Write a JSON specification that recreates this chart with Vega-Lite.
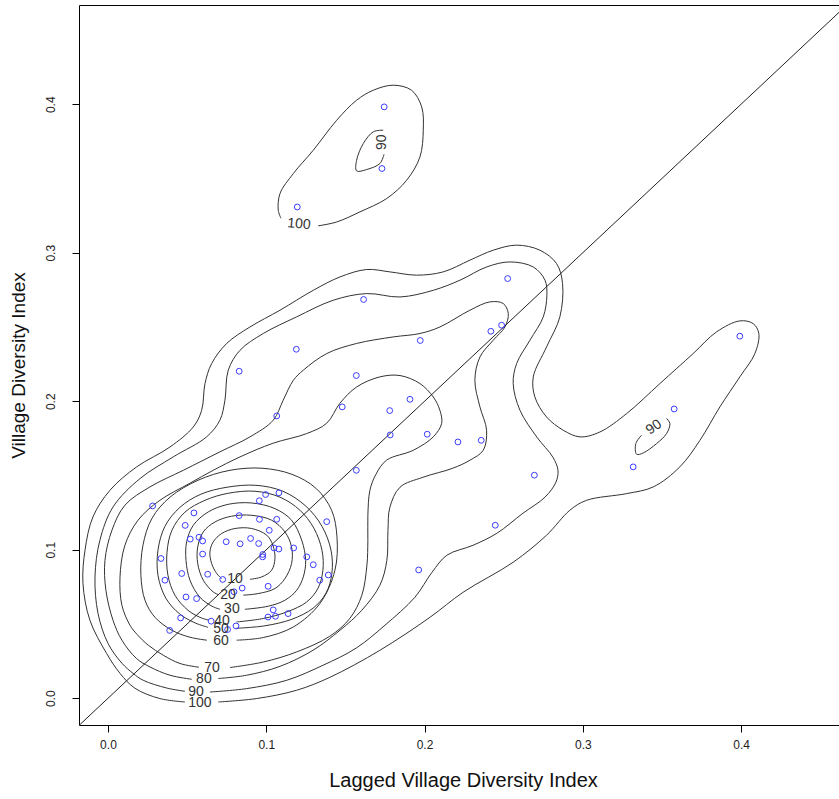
{
  "$schema": "https://vega.github.io/schema/vega-lite/v6.json",
  "width": 768,
  "height": 720,
  "autosize": {"type": "none"},
  "padding": {"left": 79, "top": 5, "right": 0, "bottom": 74},
  "background": "white",
  "config": {
    "view": {"stroke": "#000000", "strokeWidth": 1},
    "font": "Liberation Sans"
  },
  "datasets": {
    "pts": [
      {"x":0.1745,"y":0.3982},{"x":0.1731,"y":0.3567},{"x":0.1196,"y":0.3308},{"x":0.3992,"y":0.2438},
      {"x":0.3577,"y":0.1948},{"x":0.3318,"y":0.1558},{"x":0.2525,"y":0.2826},{"x":0.1615,"y":0.2685},
      {"x":0.1190,"y":0.2350},{"x":0.0829,"y":0.2202},{"x":0.2487,"y":0.2512},{"x":0.2419,"y":0.2471},
      {"x":0.1973,"y":0.2409},{"x":0.1569,"y":0.2173},{"x":0.1066,"y":0.1901},{"x":0.1480,"y":0.1962},
      {"x":0.1780,"y":0.1937},{"x":0.1908,"y":0.2013},{"x":0.1783,"y":0.1773},{"x":0.2017,"y":0.1778},
      {"x":0.2211,"y":0.1726},{"x":0.2358,"y":0.1737},{"x":0.1569,"y":0.1535},{"x":0.2694,"y":0.1502},
      {"x":0.2447,"y":0.1165},{"x":0.1963,"y":0.0864},{"x":0.0282,"y":0.1295},{"x":0.0543,"y":0.1248},
      {"x":0.0488,"y":0.1164},{"x":0.0520,"y":0.1072},{"x":0.0575,"y":0.1084},{"x":0.0598,"y":0.1059},
      {"x":0.0335,"y":0.0941},{"x":0.0598,"y":0.0971},{"x":0.0360,"y":0.0795},{"x":0.0466,"y":0.0840},
      {"x":0.0630,"y":0.0835},{"x":0.0725,"y":0.0800},{"x":0.0493,"y":0.0682},{"x":0.0560,"y":0.0671},
      {"x":0.0796,"y":0.0717},{"x":0.0848,"y":0.0742},{"x":0.0459,"y":0.0541},{"x":0.0390,"y":0.0457},
      {"x":0.0652,"y":0.0519},{"x":0.0756,"y":0.0463},{"x":0.0809,"y":0.0487},{"x":0.0829,"y":0.1230},
      {"x":0.0747,"y":0.1054},{"x":0.0835,"y":0.1040},{"x":0.0901,"y":0.1076},{"x":0.0952,"y":0.1042},
      {"x":0.0956,"y":0.1330},{"x":0.0996,"y":0.1372},{"x":0.1080,"y":0.1383},{"x":0.0957,"y":0.1205},
      {"x":0.1066,"y":0.1205},{"x":0.1019,"y":0.1131},{"x":0.0978,"y":0.0968},{"x":0.0977,"y":0.0952},
      {"x":0.1049,"y":0.1012},{"x":0.1080,"y":0.1005},{"x":0.1173,"y":0.1012},{"x":0.1256,"y":0.0952},
      {"x":0.1297,"y":0.0899},{"x":0.1382,"y":0.1189},{"x":0.1338,"y":0.0795},{"x":0.1392,"y":0.0830},
      {"x":0.1012,"y":0.0754},{"x":0.1044,"y":0.0595},{"x":0.1011,"y":0.0547},{"x":0.1058,"y":0.0552},
      {"x":0.1138,"y":0.0570}
    ],
    "labels": [
      {"t":"10","x":0.0802,"y":0.0801,"a":0},
      {"t":"20","x":0.0758,"y":0.0694,"a":0},
      {"t":"30","x":0.0783,"y":0.0599,"a":0},
      {"t":"40","x":0.0720,"y":0.0519,"a":0},
      {"t":"50","x":0.0714,"y":0.0465,"a":0},
      {"t":"60","x":0.0714,"y":0.0384,"a":0},
      {"t":"70","x":0.0657,"y":0.0202,"a":0},
      {"t":"80","x":0.0606,"y":0.0128,"a":0},
      {"t":"90","x":0.0556,"y":0.0040,"a":0},
      {"t":"100","x":0.0581,"y":-0.0034,"a":0},
      {"t":"100","x":0.1207,"y":0.3192,"a":5},
      {"t":"90","x":0.1731,"y":0.3744,"a":270},
      {"t":"90","x":0.3449,"y":0.1825,"a":325}
    ],
    "diag": [{"x":-0.0183,"y":-0.0183,"x2":0.4669,"y2":0.4669}],
    "contours": [
      {"c":"c10","i":0,"x":0.0897,"y":0.0801},{"c":"c10","i":1,"x":0.0971,"y":0.0817},{"c":"c10","i":2,"x":0.1034,"y":0.0862},
      {"c":"c10","i":3,"x":0.1055,"y":0.0943},{"c":"c10","i":4,"x":0.1042,"y":0.1030},{"c":"c10","i":5,"x":0.1003,"y":0.1098},
      {"c":"c10","i":6,"x":0.0908,"y":0.1143},{"c":"c10","i":7,"x":0.0802,"y":0.1143},{"c":"c10","i":8,"x":0.0718,"y":0.1109},
      {"c":"c10","i":9,"x":0.0665,"y":0.1053},{"c":"c10","i":10,"x":0.0644,"y":0.0985},{"c":"c10","i":11,"x":0.0655,"y":0.0907},
      {"c":"c10","i":12,"x":0.0687,"y":0.0840},{"c":"c10","i":13,"x":0.0718,"y":0.0806},

      {"c":"c20","i":0,"x":0.0855,"y":0.0694},{"c":"c20","i":1,"x":0.0949,"y":0.0705},{"c":"c20","i":2,"x":0.1055,"y":0.0739},
      {"c":"c20","i":3,"x":0.1118,"y":0.0806},{"c":"c20","i":4,"x":0.1160,"y":0.0907},{"c":"c20","i":5,"x":0.1160,"y":0.1019},
      {"c":"c20","i":6,"x":0.1118,"y":0.1120},{"c":"c20","i":7,"x":0.1034,"y":0.1199},{"c":"c20","i":8,"x":0.0908,"y":0.1232},
      {"c":"c20","i":9,"x":0.0781,"y":0.1226},{"c":"c20","i":10,"x":0.0676,"y":0.1187},{"c":"c20","i":11,"x":0.0602,"y":0.1120},
      {"c":"c20","i":12,"x":0.0567,"y":0.1019},{"c":"c20","i":13,"x":0.0567,"y":0.0907},{"c":"c20","i":14,"x":0.0602,"y":0.0795},
      {"c":"c20","i":15,"x":0.0665,"y":0.0716},{"c":"c20","i":16,"x":0.0697,"y":0.0698},

      {"c":"c30","i":0,"x":0.0865,"y":0.0599},{"c":"c30","i":1,"x":0.1013,"y":0.0620},{"c":"c30","i":2,"x":0.1118,"y":0.0660},
      {"c":"c30","i":3,"x":0.1192,"y":0.0727},{"c":"c30","i":4,"x":0.1234,"y":0.0817},{"c":"c30","i":5,"x":0.1249,"y":0.0929},
      {"c":"c30","i":6,"x":0.1224,"y":0.1064},{"c":"c30","i":7,"x":0.1160,"y":0.1199},{"c":"c30","i":8,"x":0.1055,"y":0.1277},
      {"c":"c30","i":9,"x":0.0908,"y":0.1315},{"c":"c30","i":10,"x":0.0760,"y":0.1306},{"c":"c30","i":11,"x":0.0634,"y":0.1255},
      {"c":"c30","i":12,"x":0.0539,"y":0.1165},{"c":"c30","i":13,"x":0.0497,"y":0.1053},{"c":"c30","i":14,"x":0.0493,"y":0.0929},
      {"c":"c30","i":15,"x":0.0518,"y":0.0795},{"c":"c30","i":16,"x":0.0581,"y":0.0680},{"c":"c30","i":17,"x":0.0657,"y":0.0620},
      {"c":"c30","i":18,"x":0.0708,"y":0.0599},

      {"c":"c40","i":0,"x":0.0813,"y":0.0514},{"c":"c40","i":1,"x":0.0981,"y":0.0537},{"c":"c40","i":2,"x":0.1129,"y":0.0581},
      {"c":"c40","i":3,"x":0.1255,"y":0.0648},{"c":"c40","i":4,"x":0.1327,"y":0.0741},{"c":"c40","i":5,"x":0.1358,"y":0.0862},
      {"c":"c40","i":6,"x":0.1352,"y":0.0997},{"c":"c40","i":7,"x":0.1301,"y":0.1145},{"c":"c40","i":8,"x":0.1213,"y":0.1266},
      {"c":"c40","i":9,"x":0.1087,"y":0.1354},{"c":"c40","i":10,"x":0.0929,"y":0.1394},{"c":"c40","i":11,"x":0.0758,"y":0.1380},
      {"c":"c40","i":12,"x":0.0613,"y":0.1333},{"c":"c40","i":13,"x":0.0486,"y":0.1253},{"c":"c40","i":14,"x":0.0404,"y":0.1131},
      {"c":"c40","i":15,"x":0.0373,"y":0.0983},{"c":"c40","i":16,"x":0.0379,"y":0.0828},{"c":"c40","i":17,"x":0.0423,"y":0.0694},
      {"c":"c40","i":18,"x":0.0505,"y":0.0593},{"c":"c40","i":19,"x":0.0581,"y":0.0545},{"c":"c40","i":20,"x":0.0638,"y":0.0525},

      {"c":"c50","i":0,"x":0.0809,"y":0.0471},{"c":"c50","i":1,"x":0.0992,"y":0.0488},{"c":"c50","i":2,"x":0.1162,"y":0.0532},
      {"c":"c50","i":3,"x":0.1295,"y":0.0606},{"c":"c50","i":4,"x":0.1377,"y":0.0707},{"c":"c50","i":5,"x":0.1415,"y":0.0842},
      {"c":"c50","i":6,"x":0.1409,"y":0.0997},{"c":"c50","i":7,"x":0.1352,"y":0.1158},{"c":"c50","i":8,"x":0.1251,"y":0.1293},
      {"c":"c50","i":9,"x":0.1105,"y":0.1394},{"c":"c50","i":10,"x":0.0935,"y":0.1434},{"c":"c50","i":11,"x":0.0752,"y":0.1421},
      {"c":"c50","i":12,"x":0.0587,"y":0.1374},{"c":"c50","i":13,"x":0.0455,"y":0.1286},{"c":"c50","i":14,"x":0.0360,"y":0.1158},
      {"c":"c50","i":15,"x":0.0316,"y":0.0997},{"c":"c50","i":16,"x":0.0316,"y":0.0828},{"c":"c50","i":17,"x":0.0366,"y":0.0673},
      {"c":"c50","i":18,"x":0.0455,"y":0.0566},{"c":"c50","i":19,"x":0.0556,"y":0.0505},{"c":"c50","i":20,"x":0.0632,"y":0.0478},

      {"c":"c60","i":0,"x":0.0813,"y":0.0391},{"c":"c60","i":1,"x":0.0981,"y":0.0409},{"c":"c60","i":2,"x":0.1171,"y":0.0480},
      {"c":"c60","i":3,"x":0.1339,"y":0.0638},{"c":"c60","i":4,"x":0.1434,"y":0.0862},{"c":"c60","i":5,"x":0.1447,"y":0.1084},
      {"c":"c60","i":6,"x":0.1413,"y":0.1266},{"c":"c60","i":7,"x":0.1314,"y":0.1414},{"c":"c60","i":8,"x":0.1162,"y":0.1508},
      {"c":"c60","i":9,"x":0.0973,"y":0.1549},{"c":"c60","i":10,"x":0.0771,"y":0.1535},{"c":"c60","i":11,"x":0.0569,"y":0.1468},
      {"c":"c60","i":12,"x":0.0392,"y":0.1354},{"c":"c60","i":13,"x":0.0278,"y":0.1212},{"c":"c60","i":14,"x":0.0221,"y":0.1030},
      {"c":"c60","i":15,"x":0.0208,"y":0.0828},{"c":"c60","i":16,"x":0.0234,"y":0.0660},{"c":"c60","i":17,"x":0.0297,"y":0.0545},
      {"c":"c60","i":18,"x":0.0404,"y":0.0458},{"c":"c60","i":19,"x":0.0518,"y":0.0411},{"c":"c60","i":20,"x":0.0625,"y":0.0391},

      {"c":"c70","i":0,"x":0.0771,"y":0.0207},{"c":"c70","i":1,"x":0.0981,"y":0.0244},{"c":"c70","i":2,"x":0.1192,"y":0.0312},
      {"c":"c70","i":3,"x":0.1402,"y":0.0418},{"c":"c70","i":4,"x":0.1529,"y":0.0539},{"c":"c70","i":5,"x":0.1604,"y":0.0694},
      {"c":"c70","i":6,"x":0.1636,"y":0.0896},{"c":"c70","i":7,"x":0.1642,"y":0.1064},{"c":"c70","i":8,"x":0.1642,"y":0.1232},
      {"c":"c70","i":9,"x":0.1655,"y":0.1401},{"c":"c70","i":10,"x":0.1693,"y":0.1508},{"c":"c70","i":11,"x":0.1760,"y":0.1603},
      {"c":"c70","i":12,"x":0.1929,"y":0.1670},{"c":"c70","i":13,"x":0.2055,"y":0.1760},{"c":"c70","i":14,"x":0.2108,"y":0.1850},
      {"c":"c70","i":15,"x":0.2097,"y":0.1939},{"c":"c70","i":16,"x":0.2055,"y":0.2029},{"c":"c70","i":17,"x":0.1971,"y":0.2119},
      {"c":"c70","i":18,"x":0.1845,"y":0.2173},{"c":"c70","i":19,"x":0.1718,"y":0.2164},{"c":"c70","i":20,"x":0.1571,"y":0.2096},
      {"c":"c70","i":21,"x":0.1466,"y":0.1987},{"c":"c70","i":22,"x":0.1382,"y":0.1852},{"c":"c70","i":23,"x":0.1255,"y":0.1782},
      {"c":"c70","i":24,"x":0.1042,"y":0.1717},{"c":"c70","i":25,"x":0.0834,"y":0.1625},{"c":"c70","i":26,"x":0.0665,"y":0.1535},
      {"c":"c70","i":27,"x":0.0518,"y":0.1448},{"c":"c70","i":28,"x":0.0328,"y":0.1333},{"c":"c70","i":29,"x":0.0190,"y":0.1199},
      {"c":"c70","i":30,"x":0.0107,"y":0.1030},{"c":"c70","i":31,"x":0.0076,"y":0.0815},{"c":"c70","i":32,"x":0.0088,"y":0.0626},
      {"c":"c70","i":33,"x":0.0139,"y":0.0492},{"c":"c70","i":34,"x":0.0183,"y":0.0431},{"c":"c70","i":35,"x":0.0255,"y":0.0357},
      {"c":"c70","i":36,"x":0.0349,"y":0.0290},{"c":"c70","i":37,"x":0.0455,"y":0.0234},{"c":"c70","i":38,"x":0.0575,"y":0.0209},

      {"c":"c80","i":0,"x":0.0697,"y":0.0133},{"c":"c80","i":1,"x":0.0876,"y":0.0155},{"c":"c80","i":2,"x":0.1087,"y":0.0215},
      {"c":"c80","i":3,"x":0.1295,"y":0.0323},{"c":"c80","i":4,"x":0.1466,"y":0.0458},{"c":"c80","i":5,"x":0.1604,"y":0.0593},
      {"c":"c80","i":6,"x":0.1718,"y":0.0761},{"c":"c80","i":7,"x":0.1762,"y":0.0929},{"c":"c80","i":8,"x":0.1769,"y":0.1131},
      {"c":"c80","i":9,"x":0.1781,"y":0.1286},{"c":"c80","i":10,"x":0.1845,"y":0.1421},{"c":"c80","i":11,"x":0.1990,"y":0.1488},
      {"c":"c80","i":12,"x":0.2179,"y":0.1549},{"c":"c80","i":13,"x":0.2287,"y":0.1603},{"c":"c80","i":14,"x":0.2371,"y":0.1670},
      {"c":"c80","i":15,"x":0.2392,"y":0.1805},{"c":"c80","i":16,"x":0.2350,"y":0.1962},{"c":"c80","i":17,"x":0.2318,"y":0.2141},
      {"c":"c80","i":18,"x":0.2350,"y":0.2298},{"c":"c80","i":19,"x":0.2434,"y":0.2411},{"c":"c80","i":20,"x":0.2508,"y":0.2500},
      {"c":"c80","i":21,"x":0.2529,"y":0.2591},{"c":"c80","i":22,"x":0.2497,"y":0.2658},{"c":"c80","i":23,"x":0.2413,"y":0.2669},
      {"c":"c80","i":24,"x":0.2287,"y":0.2613},{"c":"c80","i":25,"x":0.2097,"y":0.2500},{"c":"c80","i":26,"x":0.1971,"y":0.2456},
      {"c":"c80","i":27,"x":0.1802,"y":0.2433},{"c":"c80","i":28,"x":0.1571,"y":0.2389},{"c":"c80","i":29,"x":0.1382,"y":0.2321},
      {"c":"c80","i":30,"x":0.1234,"y":0.2209},{"c":"c80","i":31,"x":0.1171,"y":0.2141},{"c":"c80","i":32,"x":0.1107,"y":0.2007},
      {"c":"c80","i":33,"x":0.1044,"y":0.1872},{"c":"c80","i":34,"x":0.0897,"y":0.1760},{"c":"c80","i":35,"x":0.0707,"y":0.1659},
      {"c":"c80","i":36,"x":0.0476,"y":0.1535},{"c":"c80","i":37,"x":0.0265,"y":0.1423},{"c":"c80","i":38,"x":0.0107,"y":0.1300},
      {"c":"c80","i":39,"x":0.0025,"y":0.1131},{"c":"c80","i":40,"x":-0.0019,"y":0.0929},{"c":"c80","i":41,"x":-0.0013,"y":0.0727},
      {"c":"c80","i":42,"x":0.0032,"y":0.0525},{"c":"c80","i":43,"x":0.0088,"y":0.0391},{"c":"c80","i":44,"x":0.0181,"y":0.0267},
      {"c":"c80","i":45,"x":0.0265,"y":0.0211},{"c":"c80","i":46,"x":0.0392,"y":0.0155},{"c":"c80","i":47,"x":0.0529,"y":0.0128},

      {"c":"c90","i":0,"x":0.0644,"y":0.0042},{"c":"c90","i":1,"x":0.0876,"y":0.0065},{"c":"c90","i":2,"x":0.1129,"y":0.0121},
      {"c":"c90","i":3,"x":0.1358,"y":0.0222},{"c":"c90","i":4,"x":0.1567,"y":0.0337},{"c":"c90","i":5,"x":0.1750,"y":0.0492},
      {"c":"c90","i":6,"x":0.1939,"y":0.0680},{"c":"c90","i":7,"x":0.2047,"y":0.0848},{"c":"c90","i":8,"x":0.2141,"y":0.0963},
      {"c":"c90","i":9,"x":0.2306,"y":0.1030},{"c":"c90","i":10,"x":0.2457,"y":0.1111},{"c":"c90","i":11,"x":0.2622,"y":0.1246},
      {"c":"c90","i":12,"x":0.2761,"y":0.1354},{"c":"c90","i":13,"x":0.2830,"y":0.1455},{"c":"c90","i":14,"x":0.2843,"y":0.1535},
      {"c":"c90","i":15,"x":0.2811,"y":0.1623},{"c":"c90","i":16,"x":0.2710,"y":0.1758},{"c":"c90","i":17,"x":0.2603,"y":0.1939},
      {"c":"c90","i":18,"x":0.2560,"y":0.2119},{"c":"c90","i":19,"x":0.2582,"y":0.2254},{"c":"c90","i":20,"x":0.2666,"y":0.2411},
      {"c":"c90","i":21,"x":0.2750,"y":0.2568},{"c":"c90","i":22,"x":0.2773,"y":0.2714},{"c":"c90","i":23,"x":0.2761,"y":0.2815},
      {"c":"c90","i":24,"x":0.2687,"y":0.2904},{"c":"c90","i":25,"x":0.2539,"y":0.2938},{"c":"c90","i":26,"x":0.2392,"y":0.2904},
      {"c":"c90","i":27,"x":0.2224,"y":0.2815},{"c":"c90","i":28,"x":0.2055,"y":0.2747},{"c":"c90","i":29,"x":0.1845,"y":0.2702},
      {"c":"c90","i":30,"x":0.1634,"y":0.2725},{"c":"c90","i":31,"x":0.1423,"y":0.2680},{"c":"c90","i":32,"x":0.1192,"y":0.2568},
      {"c":"c90","i":33,"x":0.0981,"y":0.2456},{"c":"c90","i":34,"x":0.0834,"y":0.2343},{"c":"c90","i":35,"x":0.0760,"y":0.2209},
      {"c":"c90","i":36,"x":0.0739,"y":0.2007},{"c":"c90","i":37,"x":0.0707,"y":0.1872},{"c":"c90","i":38,"x":0.0623,"y":0.1760},
      {"c":"c90","i":39,"x":0.0412,"y":0.1625},{"c":"c90","i":40,"x":0.0202,"y":0.1479},{"c":"c90","i":41,"x":0.0032,"y":0.1288},
      {"c":"c90","i":42,"x":-0.0051,"y":0.1064},{"c":"c90","i":43,"x":-0.0082,"y":0.0817},{"c":"c90","i":44,"x":-0.0063,"y":0.0572},
      {"c":"c90","i":45,"x":0.0000,"y":0.0370},{"c":"c90","i":46,"x":0.0088,"y":0.0236},{"c":"c90","i":47,"x":0.0158,"y":0.0168},
      {"c":"c90","i":48,"x":0.0223,"y":0.0121},{"c":"c90","i":49,"x":0.0371,"y":0.0069},{"c":"c90","i":50,"x":0.0486,"y":0.0047},

      {"c":"c100","i":0,"x":0.0697,"y":-0.0025},{"c":"c100","i":1,"x":0.0939,"y":-0.0002},{"c":"c100","i":2,"x":0.1192,"y":0.0054},
      {"c":"c100","i":3,"x":0.1402,"y":0.0141},{"c":"c100","i":4,"x":0.1718,"y":0.0323},{"c":"c100","i":5,"x":0.2034,"y":0.0545},
      {"c":"c100","i":6,"x":0.2244,"y":0.0714},{"c":"c100","i":7,"x":0.2560,"y":0.0916},{"c":"c100","i":8,"x":0.2771,"y":0.1098},
      {"c":"c100","i":9,"x":0.2918,"y":0.1266},{"c":"c100","i":10,"x":0.3024,"y":0.1333},{"c":"c100","i":11,"x":0.3277,"y":0.1378},
      {"c":"c100","i":12,"x":0.3445,"y":0.1423},{"c":"c100","i":13,"x":0.3613,"y":0.1558},{"c":"c100","i":14,"x":0.3740,"y":0.1737},
      {"c":"c100","i":15,"x":0.3866,"y":0.1962},{"c":"c100","i":16,"x":0.3992,"y":0.2164},{"c":"c100","i":17,"x":0.4087,"y":0.2321},
      {"c":"c100","i":18,"x":0.4112,"y":0.2456},{"c":"c100","i":19,"x":0.4076,"y":0.2523},{"c":"c100","i":20,"x":0.3992,"y":0.2541},
      {"c":"c100","i":21,"x":0.3845,"y":0.2467},{"c":"c100","i":22,"x":0.3697,"y":0.2321},{"c":"c100","i":23,"x":0.3487,"y":0.2119},
      {"c":"c100","i":24,"x":0.3277,"y":0.1917},{"c":"c100","i":25,"x":0.3108,"y":0.1793},{"c":"c100","i":26,"x":0.2982,"y":0.1760},
      {"c":"c100","i":27,"x":0.2876,"y":0.1805},{"c":"c100","i":28,"x":0.2771,"y":0.1894},{"c":"c100","i":29,"x":0.2697,"y":0.2029},
      {"c":"c100","i":30,"x":0.2687,"y":0.2164},{"c":"c100","i":31,"x":0.2771,"y":0.2366},{"c":"c100","i":32,"x":0.2855,"y":0.2568},
      {"c":"c100","i":33,"x":0.2872,"y":0.2793},{"c":"c100","i":34,"x":0.2834,"y":0.2927},{"c":"c100","i":35,"x":0.2729,"y":0.3017},
      {"c":"c100","i":36,"x":0.2582,"y":0.3051},{"c":"c100","i":37,"x":0.2434,"y":0.3017},{"c":"c100","i":38,"x":0.2287,"y":0.2950},
      {"c":"c100","i":39,"x":0.2118,"y":0.2871},{"c":"c100","i":40,"x":0.1950,"y":0.2849},{"c":"c100","i":41,"x":0.1781,"y":0.2871},
      {"c":"c100","i":42,"x":0.1634,"y":0.2887},{"c":"c100","i":43,"x":0.1466,"y":0.2837},{"c":"c100","i":44,"x":0.1297,"y":0.2747},
      {"c":"c100","i":45,"x":0.1087,"y":0.2613},{"c":"c100","i":46,"x":0.0897,"y":0.2500},{"c":"c100","i":47,"x":0.0750,"y":0.2389},
      {"c":"c100","i":48,"x":0.0655,"y":0.2254},{"c":"c100","i":49,"x":0.0613,"y":0.2119},{"c":"c100","i":50,"x":0.0592,"y":0.1939},
      {"c":"c100","i":51,"x":0.0539,"y":0.1827},{"c":"c100","i":52,"x":0.0392,"y":0.1692},{"c":"c100","i":53,"x":0.0181,"y":0.1558},
      {"c":"c100","i":54,"x":0.0013,"y":0.1401},{"c":"c100","i":55,"x":-0.0095,"y":0.1221},{"c":"c100","i":56,"x":-0.0145,"y":0.0997},
      {"c":"c100","i":57,"x":-0.0158,"y":0.0774},{"c":"c100","i":58,"x":-0.0114,"y":0.0525},{"c":"c100","i":59,"x":-0.0008,"y":0.0301},
      {"c":"c100","i":60,"x":0.0076,"y":0.0168},{"c":"c100","i":61,"x":0.0171,"y":0.0067},{"c":"c100","i":62,"x":0.0328,"y":-0.0002},
      {"c":"c100","i":63,"x":0.0486,"y":-0.0025},

      {"c":"u100","i":0,"x":0.1328,"y":0.3181},{"c":"u100","i":1,"x":0.1445,"y":0.3207},{"c":"u100","i":2,"x":0.1592,"y":0.3275},
      {"c":"u100","i":3,"x":0.1761,"y":0.3365},{"c":"u100","i":4,"x":0.1887,"y":0.3488},{"c":"u100","i":5,"x":0.1971,"y":0.3645},
      {"c":"u100","i":6,"x":0.1992,"y":0.3825},{"c":"u100","i":7,"x":0.1982,"y":0.3982},{"c":"u100","i":8,"x":0.1918,"y":0.4094},
      {"c":"u100","i":9,"x":0.1802,"y":0.4128},{"c":"u100","i":10,"x":0.1676,"y":0.4094},{"c":"u100","i":11,"x":0.1571,"y":0.4027},
      {"c":"u100","i":12,"x":0.1445,"y":0.3892},{"c":"u100","i":13,"x":0.1297,"y":0.3690},{"c":"u100","i":14,"x":0.1171,"y":0.3533},
      {"c":"u100","i":15,"x":0.1087,"y":0.3399},{"c":"u100","i":16,"x":0.1076,"y":0.3286},{"c":"u100","i":17,"x":0.1093,"y":0.3232},

      {"c":"u90","i":0,"x":0.1744,"y":0.3663},{"c":"u90","i":1,"x":0.1718,"y":0.3601},{"c":"u90","i":2,"x":0.1634,"y":0.3560},
      {"c":"u90","i":3,"x":0.1571,"y":0.3551},{"c":"u90","i":4,"x":0.1571,"y":0.3623},{"c":"u90","i":5,"x":0.1613,"y":0.3735},
      {"c":"u90","i":6,"x":0.1676,"y":0.3814},{"c":"u90","i":7,"x":0.1739,"y":0.3825},

      {"c":"r90","i":0,"x":0.3529,"y":0.1884},{"c":"r90","i":1,"x":0.3550,"y":0.1850},{"c":"r90","i":2,"x":0.3529,"y":0.1782},
      {"c":"r90","i":3,"x":0.3466,"y":0.1715},{"c":"r90","i":4,"x":0.3382,"y":0.1652},{"c":"r90","i":5,"x":0.3340,"y":0.1643},
      {"c":"r90","i":6,"x":0.3335,"y":0.1715},{"c":"r90","i":7,"x":0.3371,"y":0.1771}
    ]
  },
  "encoding": {
    "x": {
      "field": "x", "type": "quantitative",
      "scale": {"domain": [-0.0183, 0.4669], "nice": false, "zero": false},
      "axis": {
        "values": [0, 0.1, 0.2, 0.3, 0.4], "format": ".1f", "domain": false, "grid": false,
        "tickColor": "#000000", "tickSize": 7, "labelFlush": false, "labelOverlap": false,
        "labelFont": "Liberation Sans", "labelFontSize": 12, "labelColor": "#222222", "labelPadding": 7,
        "title": "Lagged Village Diversity Index", "titleFont": "Liberation Sans", "titleFontSize": 20,
        "titleFontWeight": "normal", "titleColor": "#111111", "titleBaseline": "alphabetic", "titleY": 61
      }
    },
    "y": {
      "field": "y", "type": "quantitative",
      "scale": {"domain": [-0.018, 0.4668], "nice": false, "zero": false},
      "axis": {
        "values": [0, 0.1, 0.2, 0.3, 0.4], "format": ".1f", "domain": false, "grid": false,
        "tickColor": "#000000", "tickSize": 7, "labelFlush": false, "labelOverlap": false,
        "labelAngle": 270, "labelAlign": "center", "labelBaseline": "bottom",
        "labelFont": "Liberation Sans", "labelFontSize": 12, "labelColor": "#222222", "labelPadding": 15,
        "title": "Village Diversity Index", "titleFont": "Liberation Sans", "titleFontSize": 19,
        "titleFontWeight": "normal", "titleColor": "#111111", "titleBaseline": "alphabetic", "titleAngle": 270, "titleX": -55
      }
    }
  },
  "layer": [
    {
      "data": {"name": "contours"},
      "mark": {"type": "line", "stroke": "#333333", "strokeWidth": 1, "interpolate": "catmull-rom", "clip": true},
      "encoding": {
        "detail": {"field": "c", "type": "nominal"},
        "order": {"field": "i", "type": "quantitative"}
      }
    },
    {
      "data": {"name": "diag"},
      "mark": {"type": "rule", "stroke": "#222222", "strokeWidth": 1, "clip": true},
      "encoding": {
        "x2": {"field": "x2"},
        "y2": {"field": "y2"}
      }
    },
    {
      "data": {"name": "pts"},
      "mark": {"type": "point", "filled": false, "shape": "circle", "stroke": "#3b3bff", "strokeWidth": 1, "size": 34, "opacity": 1},
      "encoding": {}
    },
    {
      "data": {"name": "labels"},
      "mark": {"type": "text", "font": "Liberation Sans", "fontSize": 14, "fill": "#333333", "align": "center", "baseline": "middle"},
      "encoding": {
        "text": {"field": "t", "type": "nominal"},
        "angle": {"field": "a", "type": "quantitative", "scale": null}
      }
    }
  ]
}
